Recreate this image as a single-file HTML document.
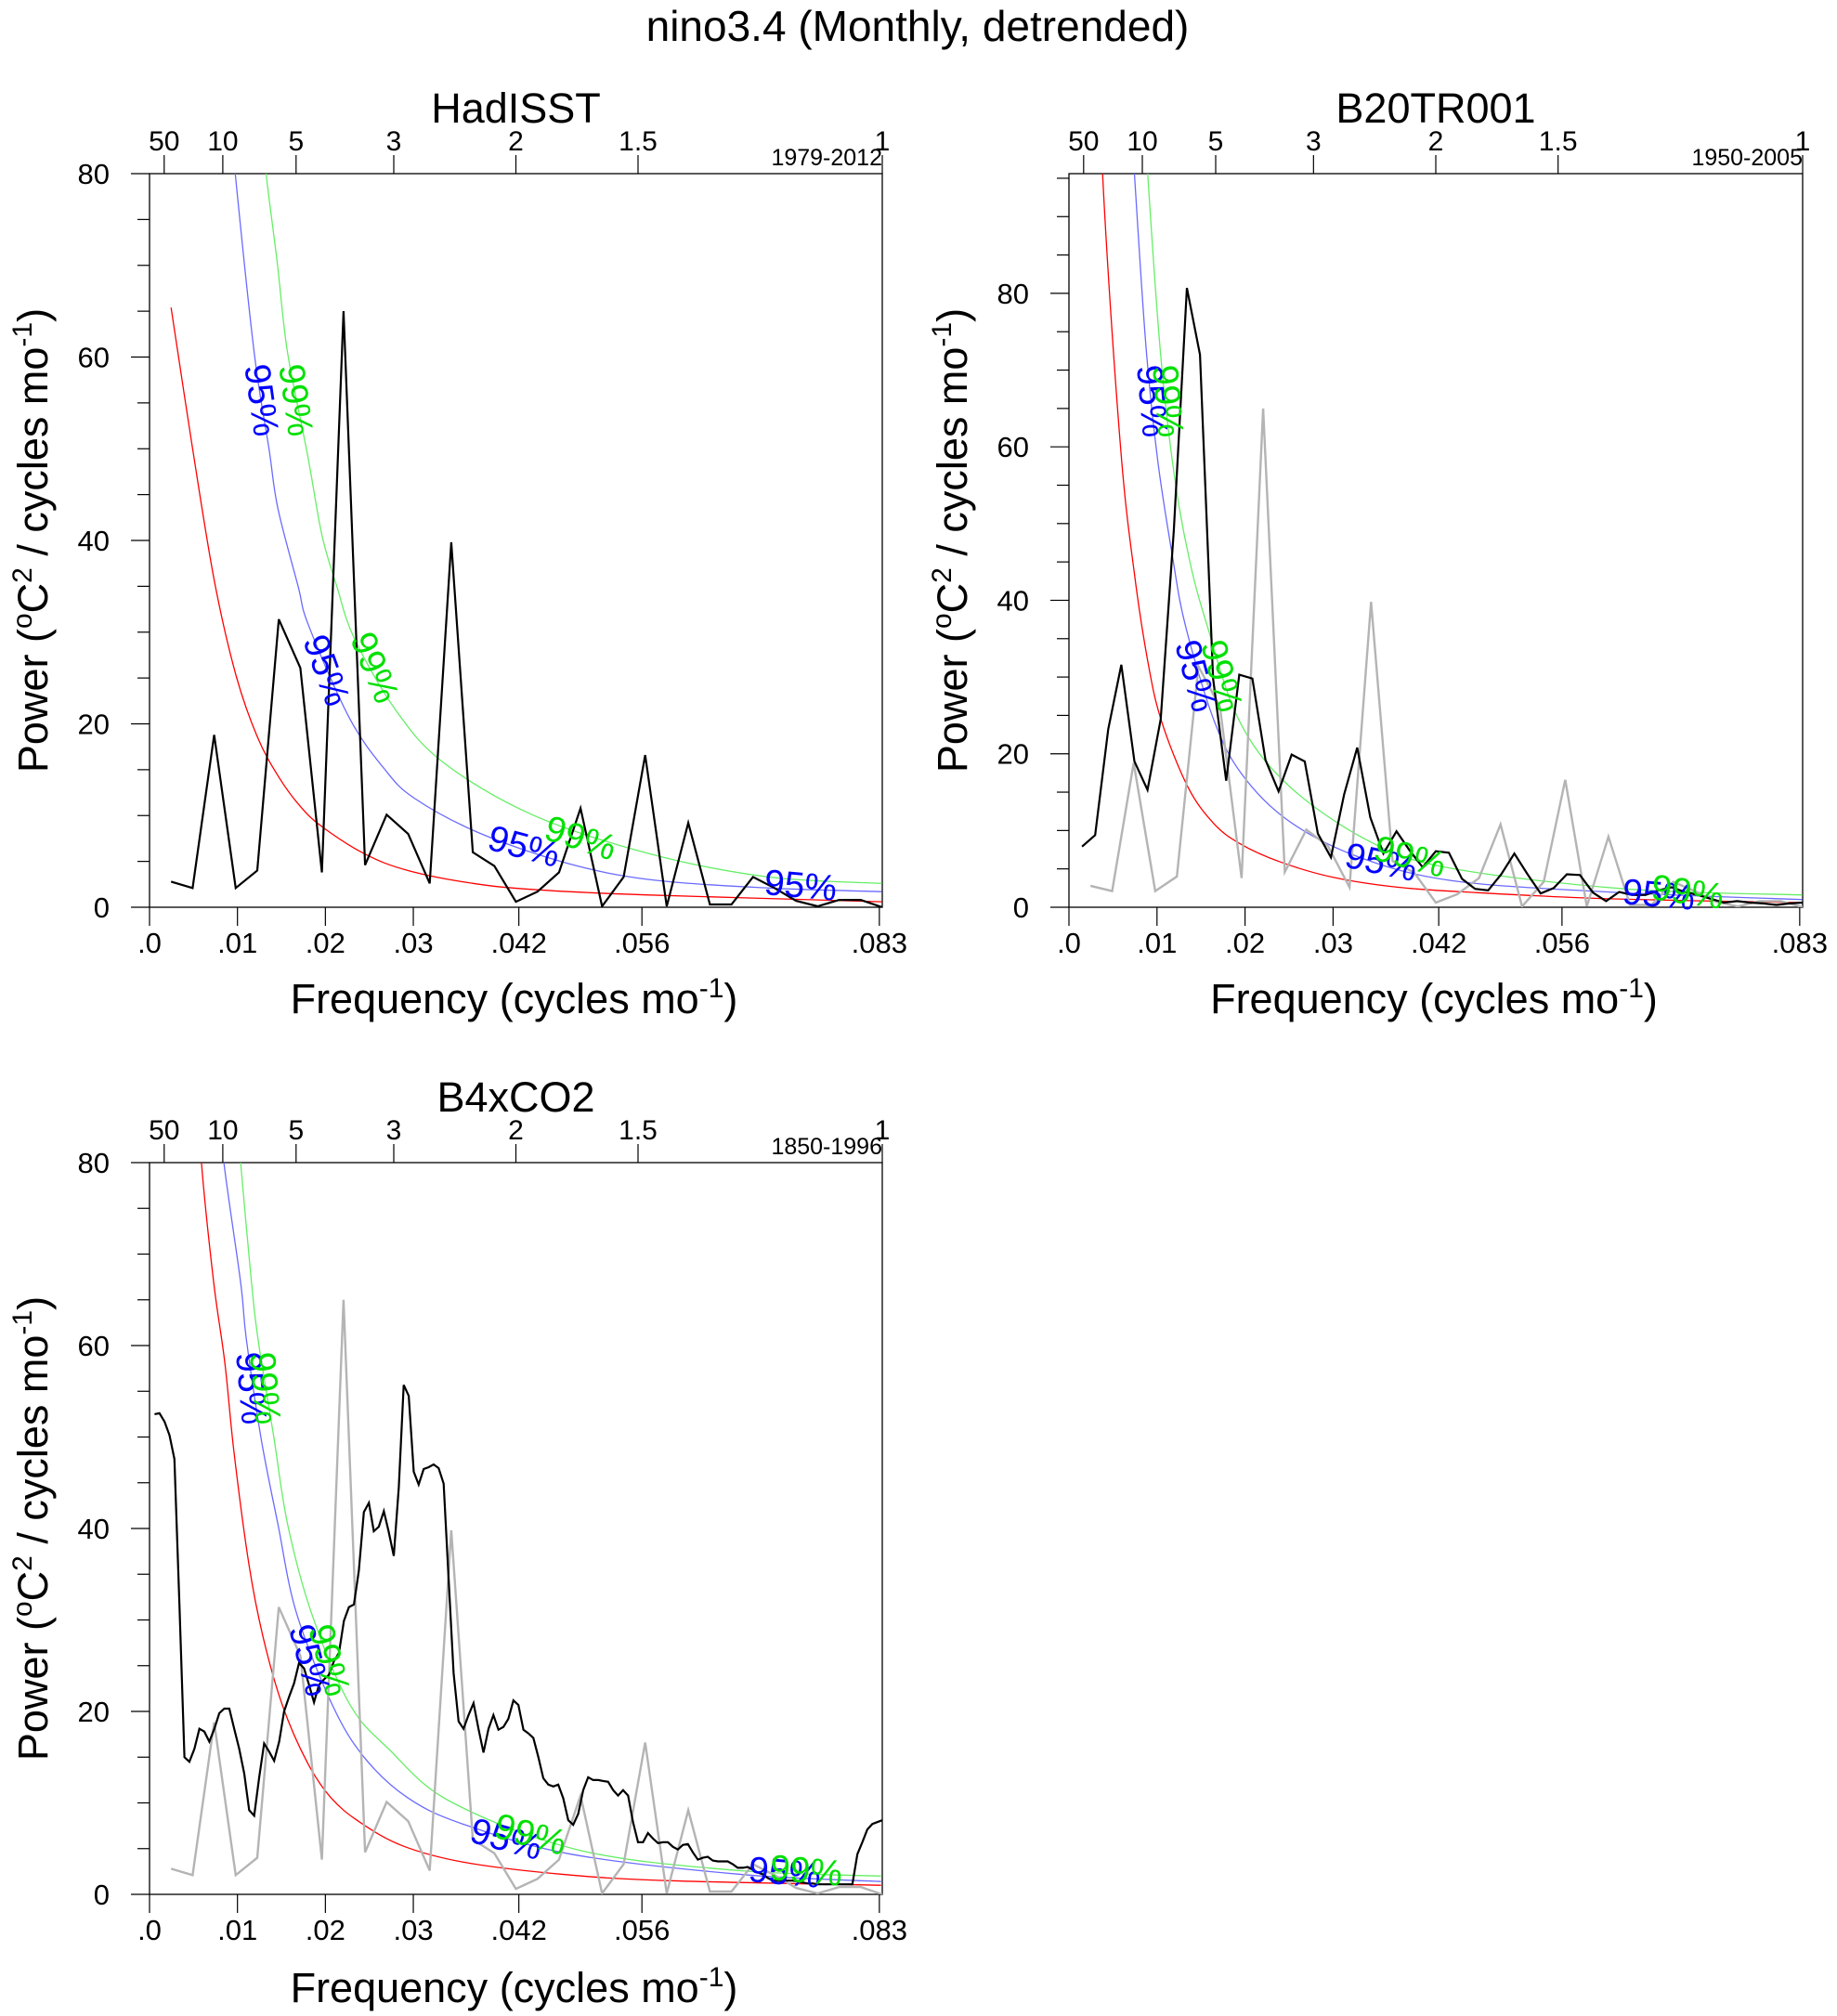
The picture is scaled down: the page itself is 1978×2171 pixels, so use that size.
<!DOCTYPE html>
<html><head><meta charset="utf-8">
<style>
html,body{margin:0;padding:0;background:#fff;}
svg{display:block;font-family:"Liberation Sans",Arial,sans-serif;}
</style></head>
<body>
<svg id="fig" width="1978" height="2171" viewBox="0 0 1978 2171" xmlns="http://www.w3.org/2000/svg">
<rect width="1978" height="2171" fill="#fff"/>
<text x="988" y="44" font-size="46" text-anchor="middle">nino3.4 (Monthly, detrended)</text>
</svg>
<script>
// ---- data ----
const hadMonths = 408;
const hadPower = [2.8,2.1,18.8,2.1,4.0,31.4,26.1,3.8,65.0,4.6,10.1,8.0,2.6,39.8,6.0,4.5,0.6,1.7,3.8,10.8,0.1,3.3,16.6,0.1,9.2,0.3,0.3,3.3,2.1,0.7,0.1,0.8,0.8,0.0];
const b20Months = 672;
const b20Power = [7.9,9.4,23.2,31.6,19.0,15.3,24.5,49.1,80.7,72.0,29.8,16.5,30.3,29.8,19.2,15.1,19.9,19.0,9.6,6.5,14.7,20.8,11.7,7.0,9.9,7.4,5.2,7.3,7.1,3.7,2.4,2.2,4.3,7.0,4.3,1.8,2.5,4.3,4.2,1.9,0.8,2.0,1.6,1.6,2.2,2.6,2.0,1.6,1.1,0.6,0.8,0.6,0.5,0.3,0.5,0.6];
const b4Months = 1764;
const b4Power = [52.5,52.6,51.7,50.2,47.6,31.7,15.0,14.5,15.9,18.1,17.8,16.7,18.1,19.8,20.3,20.3,18.1,15.9,13.2,9.2,8.6,12.8,16.5,15.6,14.6,16.7,20.0,21.6,23.1,25.3,24.7,22.9,21.0,22.9,23.5,24.0,25.5,26.4,29.9,31.4,31.7,35.4,41.8,42.8,39.7,40.2,41.9,39.6,37.0,44.5,55.7,54.5,46.2,44.8,46.5,46.7,47.0,46.6,44.9,34.6,24.2,18.9,18.1,19.6,20.9,18.1,15.5,18.1,19.6,18.0,18.3,19.2,21.2,20.7,18.0,17.6,17.1,15.0,12.7,12.0,11.8,12.0,10.5,8.1,7.6,8.8,11.4,12.8,12.5,12.5,12.4,12.3,11.4,10.8,11.4,10.8,7.9,5.7,5.7,6.7,6.1,5.6,5.7,5.7,5.2,4.9,5.4,5.5,4.6,3.8,4.0,4.1,3.7,3.6,3.6,3.6,3.3,2.9,2.9,3.0,2.7,2.4,2.2,1.8,1.5,1.5,1.5,1.5,1.5,1.4,1.3,1.2,1.2,1.1,1.1,1.1,1.1,1.1,1.1,1.1,1.1,4.4,5.7,7.1,7.7,7.9,8.1];

const hadRedFreq = [0.00245,0.0049,0.00735,0.0098,0.01225,0.0147,0.01715,0.0196,0.0245,0.0294,0.0368,0.0441,0.0564,0.0833];
const hadRedPow  = [65.4,50,35.7,25.4,18.6,14.2,11.0,8.8,5.8,4.0,2.6,1.9,1.35,0.6];
const had95Freq = [0.0094,0.00975,0.0119,0.0136,0.0146,0.0169,0.0181,0.0227,0.0267,0.0301,0.0375,0.0475,0.057,0.0704,0.0833];
const had95Pow  = [85,80,60.5,49.9,43.5,35,30.7,20.7,15.1,11.9,8.1,4.8,3.0,2.1,1.7];
const had99Freq = [0.0128,0.01325,0.0145,0.0157,0.018,0.0196,0.0213,0.0233,0.028,0.0334,0.0435,0.057,0.0704,0.0833];
const had99Pow  = [85,80,70.5,60.5,49.2,40.6,35,29.3,21.5,15.8,10.1,5.8,3.3,2.6];

const b20RedFreq = [0.0028,0.00382,0.00586,0.0075,0.00895,0.01047,0.0135,0.01646,0.0194,0.024,0.03,0.0374,0.0464,0.0613,0.0833];
const b20RedPow  = [130,95.6,59.9,42.9,32.1,24.4,15.7,10.9,8.3,5.9,3.9,2.6,1.9,1.1,0.6];
const b2095Freq = [0.007,0.00744,0.00875,0.01007,0.01172,0.01323,0.01646,0.0196,0.0249,0.0328,0.0433,0.0611,0.0833];
const b2095Pow  = [105,95.6,73,58.3,46,36.7,24.4,17.4,11.3,6.6,3.5,2.0,1.0];
const b2099Freq = [0.0086,0.00895,0.0104,0.012,0.0137,0.0157,0.0193,0.0249,0.0341,0.0433,0.0631,0.0833];
const b2099Pow  = [105,95.6,72.2,56,45.2,36.7,24.4,15.9,8.6,5.1,2.4,1.6];

const b4RedFreq = [0.0055,0.0059,0.0073,0.00857,0.0096,0.0113,0.0129,0.0151,0.0179,0.0206,0.0239,0.0288,0.0358,0.0468,0.0588,0.0832];
const b4RedPow  = [88,80,66.9,58.1,48.4,36.1,28.2,20.7,14.5,10.6,7.9,5.3,3.5,2.2,1.5,1.0];
const b495Freq = [0.0081,0.00846,0.01036,0.011,0.0127,0.0146,0.0167,0.0208,0.0244,0.0293,0.0356,0.0479,0.067,0.0832];
const b495Pow  = [86,80,66.9,60.8,49.8,40.5,30.8,20.7,15.0,10.6,7.7,4.4,2.2,1.4];
const b499Freq = [0.0099,0.01036,0.0116,0.0124,0.0141,0.0157,0.0184,0.0227,0.0272,0.0343,0.049,0.067,0.0832];
const b499Pow  = [86,80,66.9,60.3,50.2,40.5,30.8,20.9,15.9,10.1,4.8,2.6,2.0];

const bottomTickVals = [0,0.01,0.02,0.03,0.042,0.056,0.083];
const bottomTickLabels = [".0",".01",".02",".03",".042",".056",".083"];
const topPeriods = [50,10,5,3,2,1.5,1];
const topPeriodLabels = ["50","10","5","3","2","1.5","1"];
const yMajorTicks = [0,20,40,60,80];

// ---- drawing ----
const NS = "http://www.w3.org/2000/svg";
const svg = document.getElementById('fig');
function mk(tag, attrs, parent){
  const e = document.createElementNS(NS, tag);
  for (const k in attrs) e.setAttribute(k, attrs[k]);
  (parent||svg).appendChild(e);
  return e;
}
function smoothPath(pts){
  if (pts.length < 2) return "";
  let d = "M" + pts[0][0].toFixed(1) + "," + pts[0][1].toFixed(1);
  for (let i = 0; i < pts.length - 1; i++) {
    const p0 = pts[Math.max(0,i-1)], p1 = pts[i], p2 = pts[i+1], p3 = pts[Math.min(pts.length-1,i+2)];
    const c1x = p1[0] + (p2[0]-p0[0])/6, c1y = p1[1] + (p2[1]-p0[1])/6;
    const c2x = p2[0] - (p3[0]-p1[0])/6, c2y = p2[1] - (p3[1]-p1[1])/6;
    d += " C" + c1x.toFixed(1) + "," + c1y.toFixed(1) + " " + c2x.toFixed(1) + "," + c2y.toFixed(1) + " " + p2[0].toFixed(1) + "," + p2[1].toFixed(1);
  }
  return d;
}

const panels = [
  {id:'hadisst', title:'HadISST', period:'1979-2012', L:161, R:950, T:187, B:977, ymax:80, months:hadMonths, power:hadPower, gray:false,
   red:[hadRedFreq,hadRedPow], c95:[had95Freq,had95Pow], c99:[had99Freq,had99Pow],
   labels:[['95%',281,431,82,'#0000ff'],['99%',318,431,82,'#00e000'],['95%',351,722,70,'#0000ff'],['99%',403,719,68,'#00e000'],
           ['95%',564,912,15,'#0000ff'],['99%',625,903,18,'#00e000'],['95%',862,954,5,'#0000ff']]},
  {id:'b20tr001', title:'B20TR001', period:'1950-2005', L:1151, R:1941, T:187, B:977, ymax:95.6, months:b20Months, power:b20Power, gray:true,
   red:[b20RedFreq,b20RedPow], c95:[b2095Freq,b2095Pow], c99:[b2099Freq,b2099Pow],
   labels:[['95%',1240,432,85,'#0000ff'],['99%',1257,432,85,'#00e000'],['95%',1287,728,75,'#0000ff'],['99%',1315,728,75,'#00e000'],
           ['95%',1487,929,12,'#0000ff'],['99%',1518,923,15,'#00e000'],['95%',1786,964,5,'#0000ff'],['99%',1817,961,8,'#00e000']]},
  {id:'b4xco2', title:'B4xCO2', period:'1850-1996', L:161, R:950, T:1252, B:2040, ymax:80, months:b4Months, power:b4Power, gray:true,
   red:[b4RedFreq,b4RedPow], c95:[b495Freq,b495Pow], c99:[b499Freq,b499Pow],
   labels:[['95%',270,1495,85,'#0000ff'],['99%',285,1495,85,'#00e000'],['95%',333,1788,75,'#0000ff'],['99%',354,1788,75,'#00e000'],
           ['95%',545,1981,15,'#0000ff'],['99%',571,1976,15,'#00e000'],['95%',845,2017,5,'#0000ff'],['99%',868,2015,5,'#00e000']]}
];

panels.forEach(function(p){
  const g = mk('g', {});
  
  
  const xs = f => p.L + f / (1/12) * (p.R - p.L);
  const ys = v => p.B - v / p.ymax * (p.B - p.T);
  const dy = p.T - 187;

  const clipId = 'clip-' + p.id;
  const cp = mk('clipPath', {id: clipId}, g);
  mk('rect', {x:p.L, y:p.T, width:p.R-p.L, height:p.B-p.T}, cp);

  const t = mk('text', {x:(p.L+p.R)/2, y:132+dy, 'font-size':45, 'text-anchor':'middle'}, g);
  t.textContent = p.title;
  
  
  const pr = mk('text', {x:p.R, y:178+dy, 'font-size':25, 'text-anchor':'end'}, g);
  pr.textContent = p.period;
  
  

  const fr = mk('rect', {x:p.L, y:p.T, width:p.R-p.L, height:p.B-p.T, fill:'none', stroke:'#000', 'stroke-width':1.3}, g);
  
  

  for (let v = 0; v <= p.ymax + 0.01; v += 5) {
    const major = yMajorTicks.indexOf(v) >= 0;
    const tk = mk('line', {x1:p.L - (major?20:13), x2:p.L, y1:ys(v), y2:ys(v), stroke:'#000', 'stroke-width':1.2}, g);
    
    
    if (major) {
      const lb = mk('text', {x:p.L - 43, y:ys(v) + 11, 'font-size':31, 'text-anchor':'end'}, g);
      lb.textContent = String(v);
      
      
    }
  }
  bottomTickVals.forEach(function(f, i){
    const tk = mk('line', {x1:xs(f), x2:xs(f), y1:p.B, y2:p.B+20, stroke:'#000', 'stroke-width':1.2}, g);
    
    
    const lb = mk('text', {x:xs(f), y:p.B+49, 'font-size':31, 'text-anchor':'middle'}, g);
    lb.textContent = bottomTickLabels[i];
    
    
  });
  topPeriods.forEach(function(per, i){
    const f = 1/(12*per);
    const tk = mk('line', {x1:xs(f), x2:xs(f), y1:p.T-20, y2:p.T, stroke:'#000', 'stroke-width':1.2}, g);
    
    
    const lb = mk('text', {x:xs(f), y:162+dy, 'font-size':30, 'text-anchor':'middle'}, g);
    lb.textContent = topPeriodLabels[i];
    
    
  });

  const xt = mk('text', {x:(p.L+p.R)/2 - 2, y:1091+dy, 'font-size':45, 'text-anchor':'middle'}, g);
  xt.innerHTML = 'Frequency (cycles mo<tspan font-size="30" dy="-17">-1</tspan><tspan dy="17">)</tspan>';
  
  
  const ycx = p.L - 110, ycy = (p.T + p.B)/2;
  const yt = mk('text', {x:ycx, y:ycy, 'font-size':45, 'text-anchor':'middle', transform:'rotate(-90 '+ycx+' '+ycy+')'}, g);
  yt.innerHTML = 'Power (<tspan font-size="30" dy="-17">o</tspan><tspan dy="17">C</tspan><tspan font-size="30" dy="-17">2</tspan><tspan dy="17"> / cycles mo</tspan><tspan font-size="30" dy="-17">-1</tspan><tspan dy="17">)</tspan>';
  
  

  const plot = mk('g', {'clip-path':'url(#'+clipId+')'}, g);

  [[p.red,'#ff0000','red-noise-curve'],[p.c95,'#6a6aff','ci-95-curve'],[p.c99,'#66ee66','ci-99-curve']].forEach(function(c){
    const pts = c[0][0].map((f,i) => [xs(f), ys(c[0][1][i])]);
    const pa = mk('path', {d:smoothPath(pts), fill:'none', stroke:c[1], 'stroke-width':1.3}, plot);
    
    
  });

  if (p.gray) {
    const gp = hadPower.map((v,i) => xs((i+1)/hadMonths).toFixed(1) + ',' + ys(v).toFixed(1)).join(' ');
    const gl = mk('polyline', {points:gp, fill:'none', stroke:'#b4b4b4', 'stroke-width':2.4}, plot);
    
    
  }
  const sp = p.power.map((v,i) => xs((i+1)/p.months).toFixed(1) + ',' + ys(v).toFixed(1)).join(' ');
  const sl = mk('polyline', {points:sp, fill:'none', stroke:'#000', 'stroke-width':2.2}, plot);
  
  

  p.labels.forEach(function(l){
    const tx = mk('text', {x:l[1], y:l[2], 'font-size':39, 'text-anchor':'middle', 'dominant-baseline':'central', fill:l[4], transform:'rotate('+l[3]+' '+l[1]+' '+l[2]+')'}, g);
    tx.textContent = l[0];
    
    
  });
});
</script>
</body></html>
